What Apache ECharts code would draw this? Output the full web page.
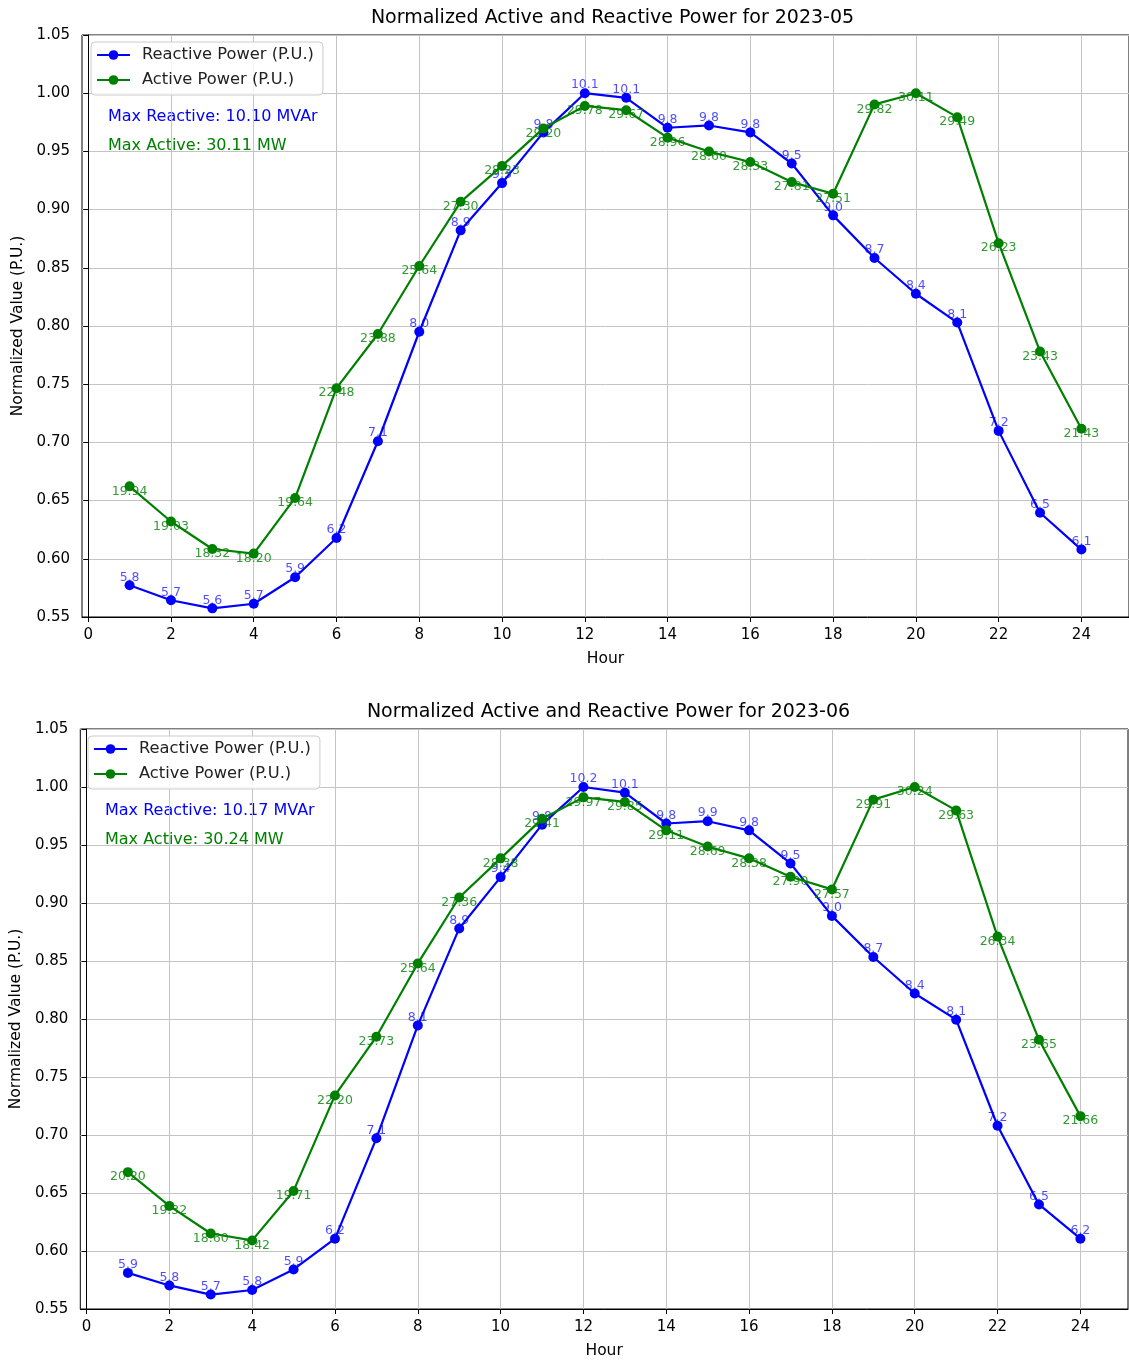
<!DOCTYPE html>
<html>
<head>
<meta charset="utf-8">
<script src="https://cdn.jsdelivr.net/npm/echarts@6/dist/echarts.min.js"></script>
<style>
  html, body { margin: 0; padding: 0; background: #fff; }
  #chart { width: 1129px; height: 1360px; }
</style>
</head>
<body>
<div id="chart"></div>
<script>
// Hourly profiles (MW / MVAr) for two months
const hours = [1, 2, 3, 4, 5, 6, 7, 8, 9, 10, 11, 12, 13, 14, 15, 16, 17, 18, 19, 20, 21, 22, 23, 24];
const periods = ['2023-05', '2023-06'];

const reactiveMay = [5.83, 5.70, 5.63, 5.67, 5.90, 6.24, 7.08, 8.03, 8.91, 9.32, 9.76, 10.10,
                     10.06, 9.80, 9.82, 9.76, 9.49, 9.04, 8.67, 8.36, 8.11, 7.17, 6.46, 6.14];
const activeMay = [19.94, 19.03, 18.32, 18.20, 19.64, 22.48, 23.88, 25.64, 27.30, 28.23, 29.20, 29.78,
                   29.67, 28.96, 28.60, 28.33, 27.81, 27.51, 29.82, 30.11, 29.49, 26.23, 23.43, 21.43];

const reactiveJun = [5.91, 5.80, 5.72, 5.76, 5.94, 6.21, 7.09, 8.08, 8.93, 9.38, 9.84, 10.17,
                     10.12, 9.85, 9.87, 9.79, 9.50, 9.04, 8.68, 8.36, 8.13, 7.20, 6.51, 6.21];
const activeJun = [20.20, 19.32, 18.60, 18.42, 19.71, 22.20, 23.73, 25.64, 27.36, 28.38, 29.41, 29.97,
                   29.85, 29.11, 28.69, 28.38, 27.90, 27.57, 29.91, 30.24, 29.63, 26.34, 23.65, 21.66];

const xTickValues = [0, 2, 4, 6, 8, 10, 12, 14, 16, 18, 20, 22, 24];

const FONT = 'DejaVu Sans';
const BLUE = '#0000ff';
const GREEN = '#008000';

const chart = echarts.init(document.getElementById('chart'), null, { renderer: 'canvas' });

// panel geometry (pixels)
const panels = [
  { left: 82, top: 35, width: 1051, height: 582, reactive: reactiveMay, active: activeMay, period: periods[0] },
  { left: 79, top: 729, width: 1049, height: 582, reactive: reactiveJun, active: activeJun, period: periods[1] }
];

const option = {
  animation: false,
  backgroundColor: '#ffffff',
  textStyle: { fontFamily: FONT },
  title: [], grid: [], xAxis: [], yAxis: [], series: [], legend: [], graphic: []
};

panels.forEach((p, i) => {
  const maxR = Math.max(...p.reactive);
  const maxA = Math.max(...p.active);

  option.title.push({
    text: 'Normalized Active and Reactive Power for ' + p.period,
    left: p.left + p.width / 2,
    top: p.top - 31,
    textAlign: 'center',
    textStyle: { fontFamily: FONT, fontSize: 19, fontWeight: 'normal', color: '#000' }
  });

  option.grid.push({
    left: p.left, top: p.top, width: p.width, height: p.height,
    show: true, borderColor: '#000', borderWidth: 1, backgroundColor: 'transparent',
    containLabel: false
  });

  option.xAxis.push({
    type: 'value', gridIndex: i, min: -0.15, max: 25.15,
    name: 'Hour', nameLocation: 'middle', nameGap: 34,
    nameTextStyle: { fontFamily: FONT, fontSize: 15.5, color: '#000' },
    axisLine: { show: true, onZero: false, lineStyle: { color: '#000', width: 1 } },
    axisTick: { show: true, inside: false, length: 5, customValues: xTickValues, lineStyle: { color: '#000' } },
    axisLabel: { customValues: xTickValues, margin: 11, fontFamily: FONT, fontSize: 15, color: '#000',
                 formatter: v => String(Math.round(v)) },
    splitLine: { show: true, lineStyle: { color: '#c4c4c4', width: 1 } }
  });

  option.yAxis.push({
    type: 'value', gridIndex: i, min: 0.55, max: 1.05, interval: 0.05,
    name: 'Normalized Value (P.U.)', nameLocation: 'middle', nameGap: 54,
    nameTextStyle: { fontFamily: FONT, fontSize: 15.5, color: '#000' },
    axisLine: { show: true, lineStyle: { color: '#000', width: 1 } },
    axisTick: { show: true, inside: false, length: 5, lineStyle: { color: '#000' } },
    axisLabel: { margin: 12, fontFamily: FONT, fontSize: 15, color: '#000',
                 formatter: v => v.toFixed(2) },
    splitLine: { show: true, lineStyle: { color: '#c4c4c4', width: 1 } }
  });

  option.series.push({
    name: 'Reactive Power (P.U.)', type: 'line',
    xAxisIndex: i, yAxisIndex: i, z: 2,
    data: hours.map((h, k) => [h, p.reactive[k] / maxR]),
    symbol: 'circle', symbolSize: 10, showSymbol: true,
    lineStyle: { color: BLUE, width: 2.2 }, itemStyle: { color: BLUE },
    label: {
      show: true, position: 'inside', offset: [0, -8],
      fontFamily: FONT, fontSize: 12.5, color: 'rgba(0,0,255,0.7)',
      formatter: d => p.reactive[d.dataIndex].toFixed(1)
    },
    emphasis: { disabled: true }
  });

  option.series.push({
    name: 'Active Power (P.U.)', type: 'line',
    xAxisIndex: i, yAxisIndex: i, z: 3,
    data: hours.map((h, k) => [h, p.active[k] / maxA]),
    symbol: 'circle', symbolSize: 10, showSymbol: true,
    lineStyle: { color: GREEN, width: 2.2 }, itemStyle: { color: GREEN },
    label: {
      show: true, position: 'inside', offset: [0, 5],
      fontFamily: FONT, fontSize: 12.5, color: 'rgba(0,128,0,0.8)',
      formatter: d => p.active[d.dataIndex].toFixed(2)
    },
    emphasis: { disabled: true }
  });

  option.legend.push({
    orient: 'vertical',
    left: p.left + 9, top: p.top + 7,
    data: ['Reactive Power (P.U.)', 'Active Power (P.U.)'],
    itemWidth: 33, itemHeight: 12, itemGap: 9,
    padding: [5, 9, 7, 5],
    backgroundColor: 'rgba(255,255,255,0.85)',
    borderColor: '#cccccc', borderWidth: 1, borderRadius: 4,
    textStyle: { fontFamily: FONT, fontSize: 16.3, color: '#222', lineHeight: 16, padding: [0, 0, 0, 7] },
    selectedMode: false
  });

  option.graphic.push({
    type: 'text', left: p.left + 26, top: p.top + 74,
    style: { text: 'Max Reactive: ' + maxR.toFixed(2) + ' MVAr', fill: BLUE, font: '16px "' + FONT + '"' }
  });
  option.graphic.push({
    type: 'text', left: p.left + 26, top: p.top + 103,
    style: { text: 'Max Active: ' + maxA.toFixed(2) + ' MW', fill: GREEN, font: '16px "' + FONT + '"' }
  });
});

chart.setOption(option);
</script>
</body>
</html>
